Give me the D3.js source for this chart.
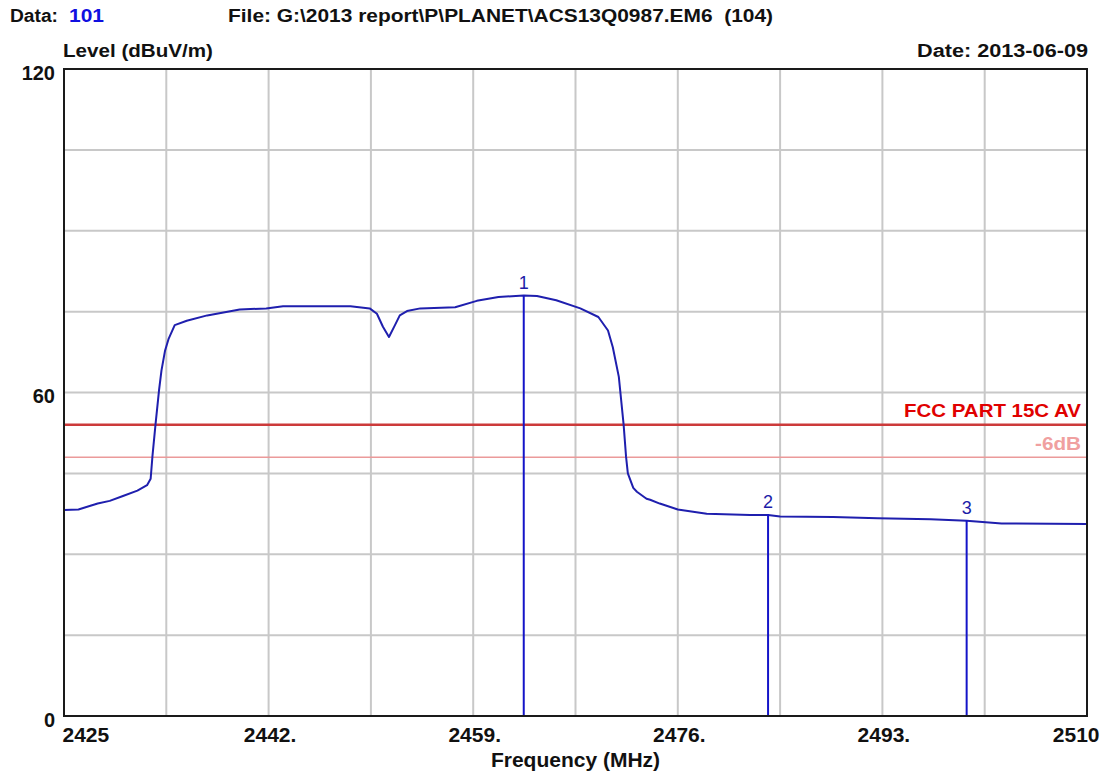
<!DOCTYPE html>
<html>
<head>
<meta charset="utf-8">
<script src="https://cdn.jsdelivr.net/npm/d3@7"></script>
<style>
  html, body { margin: 0; padding: 0; background: #ffffff; }
  svg { display: block; }
  text { font-family: "Liberation Sans", Arial, sans-serif; }
</style>
</head>
<body>
<svg id="chart" width="1107" height="775"></svg>
<script>
// ---------------- data ----------------
const freqMHz = [2425.0, 2426.2, 2427.8, 2428.8, 2429.9, 2431.1, 2431.9, 2432.2, 2432.35, 2432.6,
  2432.9, 2433.1, 2433.4, 2433.7, 2434.2, 2435.2, 2436.9, 2439.6, 2441.8, 2443.2,
  2448.8, 2450.4, 2451.0, 2451.5, 2452.0, 2452.5, 2452.9, 2453.5, 2454.6, 2457.5,
  2459.3, 2461.1, 2463.2, 2464.3, 2465.9, 2467.9, 2469.4, 2470.2, 2470.6, 2471.1,
  2471.5, 2471.7, 2471.85, 2472.3, 2472.6, 2473.4, 2473.7, 2474.5, 2476.0, 2478.4,
  2482.0, 2483.5, 2484.5, 2488.9, 2492.6, 2497.0, 2500.0, 2502.9, 2510.0];
const levelDbuV = [38.2, 38.3, 39.4, 39.9, 40.8, 41.8, 42.8, 44.0, 48.2, 54.0,
  60.5, 64.1, 67.8, 70.0, 72.5, 73.3, 74.3, 75.4, 75.6, 76.0,
  76.0, 75.6, 74.6, 72.2, 70.3, 72.5, 74.3, 75.1, 75.6, 75.8,
  77.0, 77.7, 78.0, 77.9, 77.1, 75.6, 74.0, 71.5, 68.4, 62.9,
  54.0, 48.1, 45.0, 42.3, 41.6, 40.3, 40.1, 39.4, 38.3, 37.5,
  37.3, 37.3, 37.0, 36.9, 36.7, 36.5, 36.2, 35.7, 35.6];

const markerLabels = ["1", "2", "3"];
const markerFreqs = [2463.2, 2483.5, 2500.0];
const markerLevels = [78.0, 37.4, 36.3];

const limitNames = ["FCC PART 15C AV", "-6dB"];
const limitLevels = [54, 48];

const xTickValues = [2425, 2442, 2459, 2476, 2493, 2510];
const xTickLabels = ["2425", "2442.", "2459.", "2476.", "2493.", "2510"];
const yTickValues = [0, 60, 120];
const yTickLabels = ["0", "60", "120"];

const headerDataLabel = "Data:";
const headerDataValue = "101";
const headerFile = "File: G:\\2013 report\\P\\PLANET\\ACS13Q0987.EM6  (104)";
const headerDate = "Date: 2013-06-09";
const yTitle = "Level (dBuV/m)";
const xTitle = "Frequency (MHz)";

// ---------------- layout ----------------
const svg = d3.select("#chart");
const L = 64, R = 1087, T = 69, B = 716;
const x = d3.scaleLinear().domain([2425, 2510]).range([L, R]);
const y = d3.scaleLinear().domain([0, 120]).range([B, T]);

// grid
const gridX = d3.range(0, 11).map(i => 2425 + i * 8.5);
const gridY = d3.range(0, 9).map(i => i * 15);
const grid = svg.append("g");
grid.selectAll("line.gx").data(gridX.slice(1, -1)).enter().append("line")
  .attr("x1", d => x(d)).attr("x2", d => x(d)).attr("y1", T).attr("y2", B)
  .attr("stroke", "#c8c8c8").attr("stroke-width", 2);
grid.selectAll("line.gy").data(gridY.slice(1, -1)).enter().append("line")
  .attr("x1", L).attr("x2", R).attr("y1", d => y(d)).attr("y2", d => y(d))
  .attr("stroke", "#c8c8c8").attr("stroke-width", 2);

// limit lines
const limitStroke = ["#cc3a3a", "#eb9a9a"];
const limitWidth = [2.5, 1.6];
const limitText = ["#e00000", "#f0a0a0"];
const limitTextLen = [177, 46];
limitLevels.forEach((v, i) => {
  svg.append("line").attr("x1", L).attr("x2", R)
    .attr("y1", y(v)).attr("y2", y(v))
    .attr("stroke", limitStroke[i]).attr("stroke-width", limitWidth[i]);
  svg.append("text").attr("x", 1081).attr("y", y(v) - 7.5)
    .attr("text-anchor", "end").attr("font-size", 19).attr("font-weight", "bold")
    .attr("fill", limitText[i])
    .attr("textLength", limitTextLen[i]).attr("lengthAdjust", "spacingAndGlyphs")
    .text(limitNames[i]);
});

// trace
const pts = freqMHz.map((f, i) => [f, levelDbuV[i]]);
svg.append("path").datum(pts)
  .attr("fill", "none").attr("stroke", "#1f1fae").attr("stroke-width", 2)
  .attr("stroke-linejoin", "round")
  .attr("d", d3.line().x(d => x(d[0])).y(d => y(d[1])));

// markers
markerFreqs.forEach((f, i) => {
  svg.append("line").attr("x1", x(f)).attr("x2", x(f))
    .attr("y1", y(markerLevels[i])).attr("y2", B)
    .attr("stroke", "#1414c8").attr("stroke-width", 2);
  svg.append("text").attr("x", x(f)).attr("y", y(markerLevels[i]) - 6)
    .attr("text-anchor", "middle").attr("font-size", 18)
    .attr("fill", "#1c1ca8").text(markerLabels[i]);
});

// frame
svg.append("rect").attr("x", L).attr("y", T).attr("width", R - L).attr("height", B - T)
  .attr("fill", "none").attr("stroke", "#1a1a1a").attr("stroke-width", 2);

// x axis
const xAxis = d3.axisBottom(x).tickValues(xTickValues)
  .tickFormat((d, i) => xTickLabels[i]).tickSize(0);
const gx = svg.append("g").attr("transform", `translate(0,${B})`).call(xAxis);
gx.select(".domain").remove();
gx.selectAll("text")
  .attr("y", 26).attr("dy", 0)
  .attr("font-size", 21).attr("font-weight", "bold").attr("fill", "#111")
  .style("font-family", "'Liberation Sans', Arial, sans-serif");
gx.selectAll(".tick").each(function(d, i) {
  const t = d3.select(this).select("text");
  if (i === 0) t.attr("text-anchor", "start").attr("x", -2);
  else if (i === xTickValues.length - 1) t.attr("text-anchor", "end").attr("x", 12);
  else t.attr("x", 1);
});

// y axis
const yAxis = d3.axisLeft(y).tickValues(yTickValues)
  .tickFormat((d, i) => yTickLabels[i]).tickSize(0);
const gy = svg.append("g").attr("transform", `translate(${L},0)`).call(yAxis);
gy.select(".domain").remove();
gy.selectAll("text")
  .attr("x", -9).attr("dy", 0).attr("y", 10)
  .attr("font-size", 20).attr("font-weight", "bold").attr("fill", "#111")
  .style("font-family", "'Liberation Sans', Arial, sans-serif");

// header texts
svg.append("text").attr("x", 10).attr("y", 22).attr("font-size", 18).attr("font-weight", "bold")
  .attr("fill", "#111").attr("textLength", 48).attr("lengthAdjust", "spacingAndGlyphs")
  .text(headerDataLabel);
svg.append("text").attr("x", 69).attr("y", 22).attr("font-size", 18).attr("font-weight", "bold")
  .attr("fill", "#1010e0").attr("textLength", 35).attr("lengthAdjust", "spacingAndGlyphs")
  .text(headerDataValue);
svg.append("text").attr("x", 228).attr("y", 22).attr("font-size", 18).attr("font-weight", "bold")
  .attr("fill", "#111").attr("textLength", 545).attr("lengthAdjust", "spacingAndGlyphs")
  .attr("xml:space", "preserve").style("white-space", "pre")
  .text(headerFile);
svg.append("text").attr("x", 63).attr("y", 57).attr("font-size", 18).attr("font-weight", "bold")
  .attr("fill", "#111").attr("textLength", 150).attr("lengthAdjust", "spacingAndGlyphs")
  .text(yTitle);
svg.append("text").attr("x", 1088).attr("y", 57).attr("text-anchor", "end")
  .attr("font-size", 18).attr("font-weight", "bold")
  .attr("fill", "#111").attr("textLength", 171).attr("lengthAdjust", "spacingAndGlyphs")
  .text(headerDate);
svg.append("text").attr("x", (L + R) / 2).attr("y", 767).attr("text-anchor", "middle")
  .attr("font-size", 21).attr("font-weight", "bold").attr("fill", "#111")
  .text(xTitle);
</script>
</body>
</html>
